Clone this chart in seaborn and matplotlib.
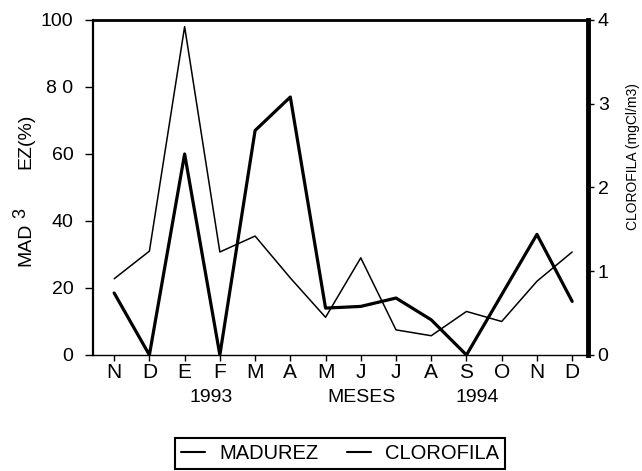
import pandas as pd
import seaborn as sns
import matplotlib.pyplot as plt

meses = ["N", "D", "E", "F", "M", "A", "M", "J", "J", "A", "S", "O", "N", "D"]
madurez = [18.5, 0, 60, 0, 67, 77, 14, 14.5, 17, 10.5, 0, 18, 36, 16]
clorofila = [0.91, 1.24, 3.92, 1.23, 1.42, 0.92, 0.45, 1.16, 0.30, 0.23, 0.52, 0.40, 0.88, 1.23]
ticks_izq = [0, 20, 40, 60, 80, 100]
etiquetas_izq = ["0", "20", "40", "60", "8 0", "100"]
ticks_der = [0, 1, 2, 3, 4]

df = pd.DataFrame({"mes": range(len(meses)), "Madurez": madurez, "Clorofila": clorofila})

sns.set_style("ticks")
plt.rcParams["font.family"] = ["Liberation Sans", "DejaVu Sans"]
plt.rcParams["text.color"] = "black"
plt.rcParams["xtick.color"] = "black"
plt.rcParams["ytick.color"] = "black"

fig = plt.figure(figsize=(6.42, 4.71), dpi=100)
ax = fig.add_axes([0.1449, 0.2463, 0.7710, 0.7113])
ax2 = ax.twinx()

sns.lineplot(data=df, x="mes", y="Madurez", ax=ax, color="black", linewidth=2.3, legend=False)
sns.lineplot(data=df, x="mes", y="Clorofila", ax=ax2, color="black", linewidth=1.1, legend=False)

ax.set_xlim(-0.6, 13.45)
ax.set_ylim(0, 100)
ax2.set_ylim(0, 4)

ax.set_xticks(range(len(meses)))
ax.set_xticklabels(meses, fontsize=15)
ax.set_yticks(ticks_izq)
ax.set_yticklabels(etiquetas_izq, fontsize=14)
ax2.set_yticks(ticks_der)
ax2.set_yticklabels([str(t) for t in ticks_der], fontsize=14)

ax.tick_params(axis="y", length=6, width=1, pad=8, colors="black")
ax.tick_params(axis="x", length=4, width=1, pad=2, colors="black")
ax2.tick_params(axis="y", length=4, width=1, pad=3, colors="black")

ax.set_xlabel("")
ax.set_ylabel("")
ax2.set_ylabel("")

for lado, ancho in [("left", 1.6), ("top", 2.0), ("bottom", 1.0)]:
    ax.spines[lado].set_linewidth(ancho)
    ax.spines[lado].set_color("black")
ax.spines["right"].set_visible(False)
for lado in ["left", "top", "bottom"]:
    ax2.spines[lado].set_visible(False)
ax2.spines["right"].set_linewidth(3.5)
ax2.spines["right"].set_color("black")

# textos sueltos del eje
fig.text(26 / 642, 1 - 244 / 471, "MAD", rotation=90, ha="center", va="center", fontsize=14)
fig.text(21 / 642, 1 - 213 / 471, "3", rotation=90, ha="center", va="center", fontsize=13)
fig.text(26 / 642, 1 - 141 / 471, "EZ(%)", rotation=90, ha="center", va="center", fontsize=14)
fig.text(633 / 642, 1 - 157 / 471, "CLOROFILA (mgCl/m3)", rotation=90, ha="center", va="center",
         fontsize=10)

fig.text(211 / 642, 1 - 398 / 471, "1993", ha="center", va="center", fontsize=14)
fig.text(362 / 642, 1 - 398 / 471, "MESES", ha="center", va="center", fontsize=14)
fig.text(477 / 642, 1 - 398 / 471, "1994", ha="center", va="center", fontsize=14)

handles = [plt.Line2D([], [], color="black", linewidth=1.5),
           plt.Line2D([], [], color="black", linewidth=1.5)]
leg = fig.legend(handles, ["MADUREZ", "CLOROFILA"], loc="upper center",
                 bbox_to_anchor=(340 / 642, 1 - 438 / 471), ncol=2, fontsize=14.5,
                 frameon=True, fancybox=False, edgecolor="black", framealpha=1,
                 handlelength=1.2, handletextpad=0.7, columnspacing=1.4,
                 borderpad=0.3, borderaxespad=0)
leg.get_frame().set_linewidth(1.5)

fig.savefig("out.png", dpi=100)
